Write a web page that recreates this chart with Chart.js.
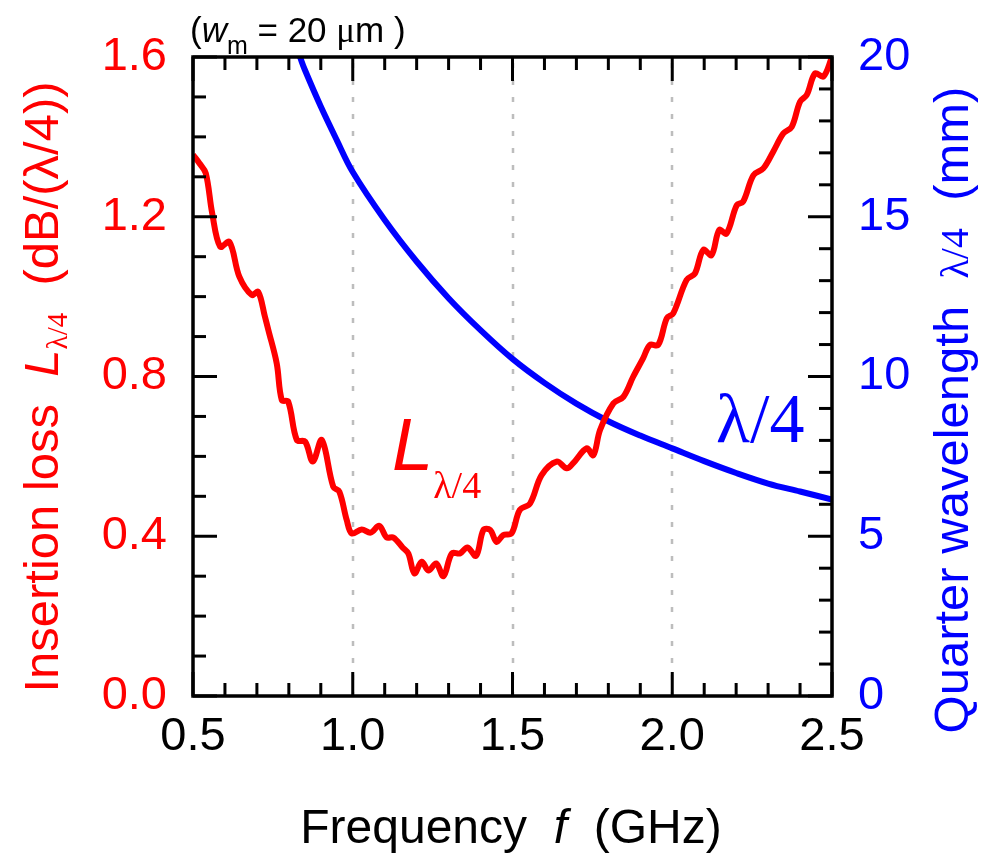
<!DOCTYPE html>
<html>
<head>
<meta charset="utf-8">
<script src="https://cdn.jsdelivr.net/npm/chart.js@4.4.0/dist/chart.umd.min.js"></script>
<style>
  html, body { margin: 0; padding: 0; background: #fff; }
  #wrap { width: 1004px; height: 857px; }
</style>
</head>
<body>
<div id="wrap"><canvas id="chart-loss" width="1004" height="857"></canvas></div>
<script>
// insertion loss per quarter wavelength (red, left axis)
var lossFreq = [0.50, 0.52, 0.54, 0.56, 0.585, 0.614, 0.645, 0.684, 0.704, 0.725,
  0.736, 0.762, 0.778, 0.798, 0.825, 0.851, 0.875, 0.903, 0.939, 0.958,
  0.981, 0.997, 1.028, 1.056, 1.083, 1.106, 1.127, 1.156, 1.174, 1.193,
  1.216, 1.237, 1.261, 1.284, 1.31, 1.336, 1.359, 1.386, 1.409, 1.43,
  1.45, 1.471, 1.497, 1.523, 1.555, 1.591, 1.638, 1.67, 1.69, 1.732,
  1.753, 1.774, 1.816, 1.847, 1.878, 1.909, 1.93, 1.956, 1.983, 2.003,
  2.045, 2.071, 2.097, 2.123, 2.147, 2.17, 2.202, 2.222, 2.254, 2.285,
  2.316, 2.348, 2.374, 2.4, 2.421, 2.447, 2.473, 2.5];
var lossVal = [1.355, 1.334, 1.309, 1.209, 1.125, 1.137, 1.050, 1.004, 1.012, 0.950,
  0.916, 0.833, 0.741, 0.737, 0.641, 0.637, 0.587, 0.641, 0.524, 0.512,
  0.441, 0.407, 0.417, 0.409, 0.426, 0.397, 0.397, 0.372, 0.357, 0.307,
  0.336, 0.314, 0.332, 0.300, 0.357, 0.357, 0.372, 0.351, 0.416, 0.416,
  0.386, 0.403, 0.407, 0.466, 0.482, 0.553, 0.587, 0.570, 0.583, 0.620,
  0.603, 0.666, 0.733, 0.749, 0.800, 0.846, 0.879, 0.879, 0.946, 0.958,
  1.042, 1.058, 1.117, 1.104, 1.167, 1.158, 1.229, 1.238, 1.304, 1.321,
  1.363, 1.409, 1.425, 1.488, 1.505, 1.559, 1.551, 1.600];

// quarter wavelength (blue, right axis)
var qwFreq = [0.835, 0.85, 0.9, 0.95, 1.0, 1.1, 1.2, 1.3, 1.4, 1.5,
  1.6, 1.7, 1.8, 1.9, 2.0, 2.1, 2.2, 2.3, 2.4, 2.5];
var qwVal = [20.0, 19.6, 18.45, 17.4, 16.4, 14.9, 13.6, 12.45, 11.45, 10.55,
  9.8, 9.15, 8.6, 8.15, 7.75, 7.35, 6.98, 6.65, 6.4, 6.15];

// axis ticks
var freqTicks = [0.5, 1.0, 1.5, 2.0, 2.5];
var lossTicks = [0.0, 0.4, 0.8, 1.2, 1.6];
var qwTicks = [0, 5, 10, 15, 20];
var gridFreqs = [1.0, 1.5, 2.0];

var SANS = "'Liberation Sans', Arial, sans-serif";
var SERIF = "'Liberation Serif', 'Times New Roman', serif";
var RED = '#ff0000', BLUE = '#0000ff';

function toPoints(xs, ys) {
  return xs.map(function (x, i) { return { x: x, y: ys[i] }; });
}

// draw a row of text pieces with their own fonts
function drawRuns(ctx, parts, x, y, align) {
  var w = 0;
  parts.forEach(function (p) { ctx.font = p.f; p.w = ctx.measureText(p.t).width; w += p.w; });
  var cx = align === 'center' ? x - w / 2 : x;
  parts.forEach(function (p) {
    ctx.font = p.f;
    ctx.fillText(p.t, cx, y + (p.dy || 0));
    cx += p.w;
  });
}

function minorList(min, max, step) {
  var out = [];
  for (var v = min; v <= max + 1e-9; v += step) out.push(Math.round(v * 1000) / 1000);
  return out;
}

var framePlugin = {
  id: 'frame',
  beforeDatasetsDraw: function (chart) {
    var ctx = chart.ctx, a = chart.chartArea, x = chart.scales.x;
    ctx.save();
    ctx.strokeStyle = '#bdbdbd';
    ctx.lineWidth = 2.5;
    ctx.setLineDash([5, 12]);
    gridFreqs.forEach(function (f) {
      var px = Math.round(x.getPixelForValue(f));
      ctx.beginPath();
      ctx.moveTo(px, a.top + 6);
      ctx.lineTo(px, a.bottom);
      ctx.stroke();
    });
    ctx.restore();
  },
  afterDatasetsDraw: function (chart) {
    var ctx = chart.ctx, a = chart.chartArea;
    var x = chart.scales.x, y = chart.scales.y, y2 = chart.scales.y2;
    ctx.save();
    ctx.strokeStyle = '#000';
    ctx.lineWidth = 3;
    // inward ticks
    var major = 24, minor = 13;
    minorList(0.5, 2.5, 0.1).forEach(function (v) {
      var px = x.getPixelForValue(v);
      var len = freqTicks.indexOf(v) >= 0 ? major : minor;
      ctx.beginPath();
      ctx.moveTo(px, a.bottom); ctx.lineTo(px, a.bottom - len);
      ctx.moveTo(px, a.top); ctx.lineTo(px, a.top + len);
      ctx.stroke();
    });
    minorList(0, 1.6, 0.1).forEach(function (v) {
      var py = y.getPixelForValue(v);
      var len = lossTicks.indexOf(v) >= 0 ? major : minor;
      ctx.beginPath();
      ctx.moveTo(a.left, py); ctx.lineTo(a.left + len, py);
      ctx.stroke();
    });
    minorList(0, 20, 1).forEach(function (v) {
      var py = y2.getPixelForValue(v);
      var len = qwTicks.indexOf(v) >= 0 ? major : minor;
      ctx.beginPath();
      ctx.moveTo(a.right, py); ctx.lineTo(a.right - len, py);
      ctx.stroke();
    });
    // frame
    ctx.lineWidth = 3.5;
    ctx.strokeRect(a.left, a.top, a.right - a.left, a.bottom - a.top);

    ctx.textBaseline = 'alphabetic';
    ctx.textAlign = 'left';

    // x title
    ctx.fillStyle = '#000';
    drawRuns(ctx, [
      { t: 'Frequency  ', f: '48px ' + SANS },
      { t: 'f', f: 'italic 48px ' + SANS },
      { t: '  (GHz)', f: '48px ' + SANS }
    ], 511, 843, 'center');

    // top note
    drawRuns(ctx, [
      { t: '(', f: '35px ' + SANS },
      { t: 'w', f: 'italic 35px ' + SANS },
      { t: 'm', f: '25px ' + SANS, dy: 12 },
      { t: ' = 20 ', f: '35px ' + SANS },
      { t: '\u03bc', f: '35px ' + SERIF },
      { t: 'm )', f: '35px ' + SANS }
    ], 190, 42, 'left');

    // left title
    ctx.save();
    ctx.translate(58, 387);
    ctx.rotate(-Math.PI / 2);
    ctx.fillStyle = RED;
    drawRuns(ctx, [
      { t: 'Insertion loss  ', f: '49px ' + SANS },
      { t: 'L', f: 'italic 49px ' + SANS },
      { t: '\u03bb/4', f: '29px ' + SERIF, dy: 9 },
      { t: '  (dB/(\u03bb/4))', f: '49px ' + SANS }
    ], 0, 0, 'center');
    ctx.restore();

    // right title
    ctx.save();
    ctx.translate(968, 410);
    ctx.rotate(-Math.PI / 2);
    ctx.fillStyle = BLUE;
    drawRuns(ctx, [
      { t: 'Quarter wavelength  ', f: '49px ' + SANS },
      { t: '\u03bb/4', f: '40px ' + SERIF },
      { t: '  (mm)', f: '49px ' + SANS }
    ], 0, 0, 'center');
    ctx.restore();

    // curve labels
    ctx.fillStyle = RED;
    drawRuns(ctx, [
      { t: 'L', f: 'italic 74px ' + SANS },
      { t: '\u03bb/4', f: '38px ' + SERIF, dy: 28 }
    ], 392, 470, 'left');
    ctx.fillStyle = BLUE;
    drawRuns(ctx, [
      { t: '\u03bb/4', f: '70px ' + SERIF }
    ], 716, 442, 'left');

    ctx.restore();
  }
};

function lossChart() {
  var tickFont = { family: SANS, size: 47 };
  var config = {
    type: 'scatter',
    data: {
      datasets: [{
        label: 'L',
        data: toPoints(lossFreq, lossVal),
        yAxisID: 'y',
        showLine: true,
        borderColor: RED,
        backgroundColor: RED,
        borderWidth: 6,
        pointRadius: 0,
        tension: 0.35,
        fill: false
      }, {
        label: 'qw',
        data: toPoints(qwFreq, qwVal),
        yAxisID: 'y2',
        showLine: true,
        borderColor: BLUE,
        backgroundColor: BLUE,
        borderWidth: 6,
        pointRadius: 0,
        tension: 0.35,
        fill: false
      }]
    },
    options: {
      responsive: false,
      animation: false,
      devicePixelRatio: 1,
      layout: { padding: { top: 57, left: 0, right: 0, bottom: 0 } },
      plugins: { legend: { display: false }, tooltip: { enabled: false } },
      scales: {
        x: {
          type: 'linear', position: 'bottom', min: 0.5, max: 2.5,
          afterBuildTicks: function (s) { s.ticks = freqTicks.map(function (v) { return { value: v }; }); },
          ticks: { font: tickFont, color: '#000', padding: 13, maxRotation: 0,
            callback: function (v) { return v.toFixed(1); } },
          grid: { display: false, drawTicks: false },
          border: { display: false },
          afterFit: function (s) { s.height = 161; }
        },
        y: {
          type: 'linear', position: 'left', min: 0, max: 1.6,
          afterBuildTicks: function (s) { s.ticks = lossTicks.map(function (v) { return { value: v }; }); },
          ticks: { font: tickFont, color: RED, padding: 26,
            callback: function (v) { return v.toFixed(1); } },
          grid: { display: false, drawTicks: false },
          border: { display: false },
          afterFit: function (s) { s.width = 193; }
        },
        y2: {
          type: 'linear', position: 'right', min: 0, max: 20,
          afterBuildTicks: function (s) { s.ticks = qwTicks.map(function (v) { return { value: v }; }); },
          ticks: { font: tickFont, color: BLUE, padding: 26,
            callback: function (v) { return String(v); } },
          grid: { display: false, drawTicks: false },
          border: { display: false },
          afterFit: function (s) { s.width = 172; }
        }
      }
    },
    plugins: [framePlugin]
  };
  var ctx = document.getElementById('chart-loss').getContext('2d');
  window.lossChart = new Chart(ctx, config);
}
lossChart();
</script>
</body>
</html>
